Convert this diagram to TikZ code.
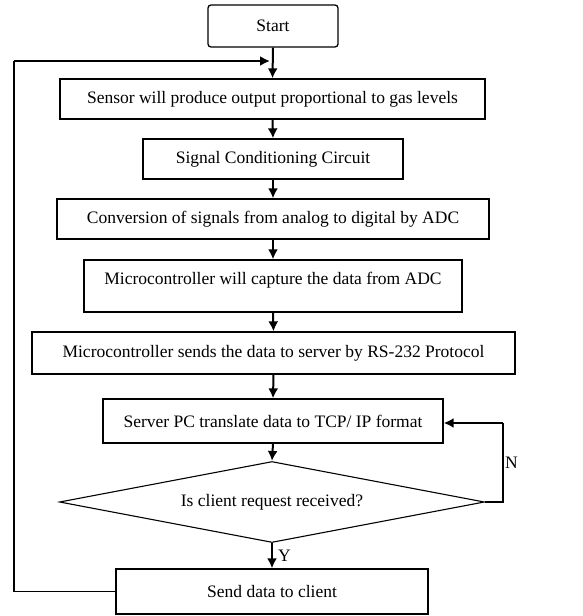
\documentclass[tikz,border=0pt]{standalone}
\usepackage{fontspec}
\setmainfont{Liberation Serif}
\usetikzlibrary{shapes.geometric,arrows.meta}
\begin{document}
\begin{tikzpicture}[x=1pt,y=-1pt,
  box/.style={draw=black,line width=1.3pt,rectangle,inner sep=0pt,anchor=center,
    font=\fontsize{17.5}{20}\selectfont},
  decision/.style={draw=black,line width=1.1pt,diamond,aspect=5.25,inner sep=0pt,anchor=center,
    font=\fontsize{17.5}{20}\selectfont},
  flow/.style={line width=2pt,-{Latex[length=10pt,width=10pt]}},
  back/.style={line width=1.3pt},
  lbl/.style={font=\fontsize{17.5}{20}\selectfont,inner sep=0pt}]
\useasboundingbox (0,0) rectangle (582,616);
\node[box,rounded corners=3pt,minimum width=130,minimum height=42] (start) at (273,26) {Start};
\node[box,minimum width=425,minimum height=40] (sensor) at (272.5,99) {Sensor will produce output proportional to gas levels};
\node[box,minimum width=260,minimum height=40] (signal) at (273,159) {Signal Conditioning Circuit};
\node[box,minimum width=432,minimum height=40] (adc) at (273,219) {Conversion of signals from analog to digital by ADC};
\node[box,minimum width=378,minimum height=52,text depth=16pt] (capture) at (273,286) {Microcontroller will capture the data from ADC};
\node[box,minimum width=483,minimum height=42] (rs) at (273.5,353) {Microcontroller sends the data to server by RS-232 Protocol};
\node[box,minimum width=340,minimum height=44] (server) at (273,421) {Server PC translate data to TCP/ IP format};
\node[decision,minimum width=425,minimum height=81] (req) at (272,502) {Is client request received?};
\node[box,minimum width=312,minimum height=45] (send) at (272,591.5) {Send data to client};

\coordinate (loopin) at (270,61);
\coordinate (loopcorner) at (14,61);
\coordinate (nturn) at (503,423);

\draw[flow] (start.south) -- (sensor.north);
\draw[flow] (sensor.south) -- (signal.north);
\draw[flow] (signal.south) -- (adc.north);
\draw[flow] (adc.south) -- (capture.north);
\draw[flow] (capture.south) -- (rs.north);
\draw[flow] (rs.south) -- (server.north);
\draw[flow] (server.south) -- (req.north);
\draw[flow] (req.south) -- node[lbl,right=5pt,pos=0.5]{Y} (send.north);
\draw[back] (req.east) -| (nturn);
\draw[flow] (nturn) -- (server.east |- nturn);
\node[lbl,anchor=west] (nlabel) at (505,463) {N};
\draw[back] (send.west) -| (loopcorner);
\draw[flow] (loopcorner) -- (loopin);
\end{tikzpicture}
\end{document}
